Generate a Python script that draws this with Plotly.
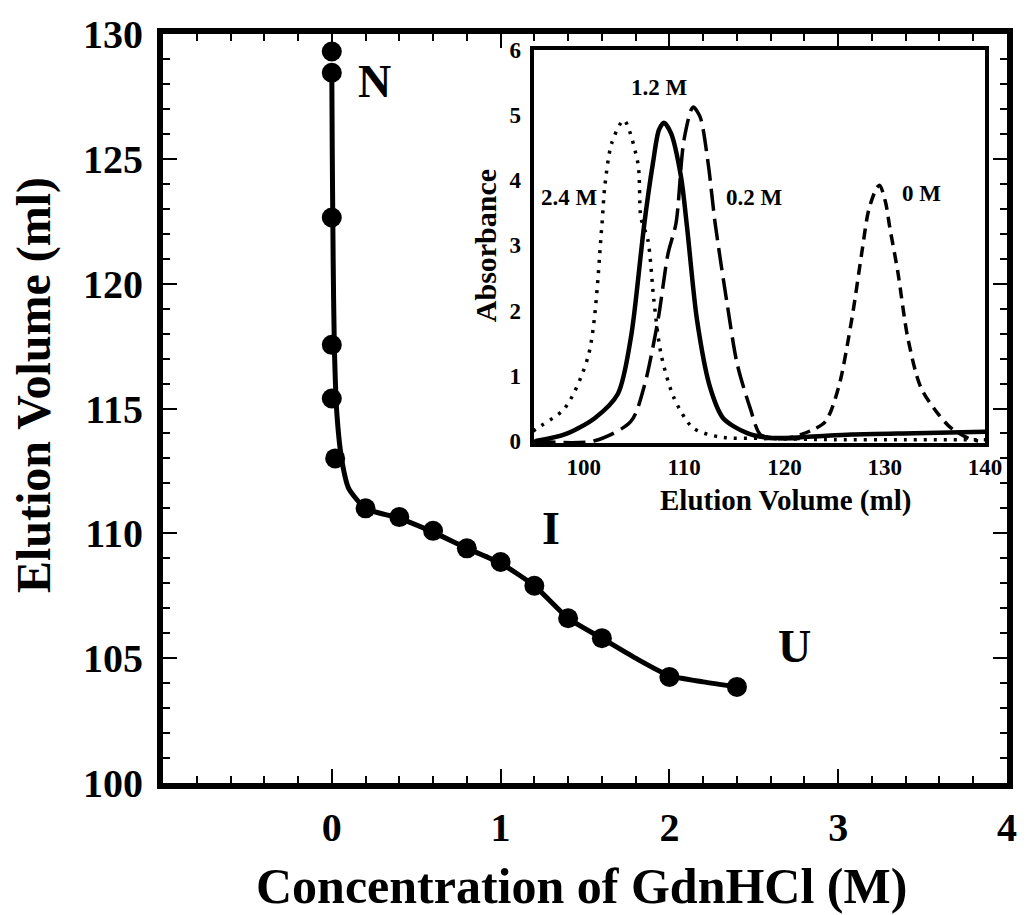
import plotly.graph_objects as go

# ---- main plot data ----
conc = [0, 0, 0, 0, 0, 0.02, 0.2, 0.4, 0.6, 0.8, 1.0, 1.2, 1.4, 1.6, 2.0, 2.4]
vol = [129.3, 128.45, 122.65, 117.55, 115.4, 113.0, 111.0, 110.65, 110.1, 109.4,
       108.85, 107.9, 106.6, 105.8, 104.25, 103.85]

# smooth fitted curve
fit_x = [0.0, 0.003, 0.008, 0.015, 0.03, 0.06, 0.1, 0.2, 0.4, 0.6, 0.8, 1.0, 1.2, 1.4, 1.6, 1.8, 2.0, 2.2, 2.4]
fit_y = [128.45, 125.0, 121.0, 117.5, 114.8, 112.9, 111.8, 111.0, 110.6, 110.05, 109.4,
         108.8, 107.9, 106.6, 105.8, 105.0, 104.3, 104.05, 103.85]

# ---- inset data ----
v24 = [95.0, 95.2, 98.1, 100.5, 101.8, 102.1, 102.8, 104.0, 105.4, 105.7, 106.4, 107.0, 107.7, 109.0, 110.9, 113.6, 118.0, 125.0, 132.0, 140.0]
a24 = [0.15, 0.18, 0.5, 1.33, 3.28, 3.9, 4.57, 4.92, 4.26, 3.43, 3.08, 2.15, 1.34, 0.66, 0.2, 0.06, 0.04, 0.02, 0.02, 0.02]

v12 = [95.2, 98.1, 101.1, 103.4, 104.7, 105.7, 106.0, 106.9, 107.5, 108.0, 108.7, 109.7, 110.3, 111.3, 112.6, 113.9, 116.3, 118.5, 122.0, 126.7, 133.0, 140.0]
a12 = [0.0, 0.1, 0.35, 0.72, 1.58, 2.87, 3.28, 4.26, 4.77, 4.88, 4.72, 4.05, 3.28, 1.85, 0.82, 0.35, 0.12, 0.05, 0.06, 0.1, 0.12, 0.14]

v02 = [95.0, 101.0, 104.7, 106.0, 107.4, 108.4, 109.2, 110.0, 110.9, 111.6, 112.4, 113.1, 114.3, 115.3, 116.6, 117.6, 119.0, 122.0]
a02 = [0.0, 0.0, 0.3, 0.82, 1.85, 2.87, 3.34, 4.62, 5.12, 4.97, 4.26, 3.34, 2.1, 1.18, 0.5, 0.1, 0.04, 0.04]

v00 = [118.0, 120.5, 122.5, 124.1, 125.4, 126.7, 127.7, 128.4, 129.2, 129.5, 130.1, 130.5, 131.3, 132.3, 133.6, 135.3, 136.6, 138.5, 139.3]
a00 = [0.04, 0.05, 0.15, 0.3, 0.82, 1.85, 2.87, 3.54, 3.88, 3.92, 3.65, 3.28, 2.6, 1.58, 0.82, 0.42, 0.2, 0.03, 0.0]

inset_labels = ["2.4 M", "1.2 M", "0.2 M", "0 M"]
inset_label_x = [98.6, 107.6, 117.0, 133.7]
inset_label_y = [3.74, 5.42, 3.74, 3.8]

state_labels = ["N", "I", "U"]
state_x = [0.25, 1.3, 2.74]
state_y = [128.1, 110.2, 105.45]

SERIF = "Liberation Serif"

fig = go.Figure()

fig.add_trace(go.Scatter(x=fit_x, y=fit_y, mode="lines", line=dict(color="black", width=5, shape="spline", smoothing=0.6),
                         xaxis="x", yaxis="y", showlegend=False, hoverinfo="skip"))
fig.add_trace(go.Scatter(x=conc, y=vol, mode="markers", marker=dict(color="black", size=20),
                         xaxis="x", yaxis="y", showlegend=False))

fig.add_trace(go.Scatter(x=v24, y=a24, mode="lines", line=dict(color="black", width=3.5, dash="3px,7px", shape="spline", smoothing=0.8),
                         xaxis="x2", yaxis="y2", showlegend=False))
fig.add_trace(go.Scatter(x=v12, y=a12, mode="lines", line=dict(color="black", width=4.5, shape="spline", smoothing=0.8),
                         xaxis="x2", yaxis="y2", showlegend=False))
fig.add_trace(go.Scatter(x=v02, y=a02, mode="lines", line=dict(color="black", width=3.5, dash="22px,8px", shape="spline", smoothing=0.8),
                         xaxis="x2", yaxis="y2", showlegend=False))
fig.add_trace(go.Scatter(x=v00, y=a00, mode="lines", line=dict(color="black", width=3.5, dash="11px,7px", shape="spline", smoothing=0.8),
                         xaxis="x2", yaxis="y2", showlegend=False))

ann = []
for t, x, y in zip(state_labels, state_x, state_y):
    ann.append(dict(text=t, x=x, y=y, xref="x", yref="y", showarrow=False,
                    font=dict(family=SERIF, size=46, color="black", weight="bold")))
for t, x, y in zip(inset_labels, inset_label_x, inset_label_y):
    ann.append(dict(text=t, x=x, y=y, xref="x2", yref="y2", showarrow=False,
                    font=dict(family=SERIF, size=23, color="black", weight="bold")))

# axis titles
ann.append(dict(text="Elution Volume (ml)", x=-0.152, y=0.531, xref="paper", yref="paper",
                textangle=-90, showarrow=False, xanchor="center", yanchor="middle",
                font=dict(family=SERIF, size=48, color="black", weight="bold")))
ann.append(dict(text="Concentration of GdnHCl (M)", x=0.496, y=-0.138, xref="paper", yref="paper",
                showarrow=False, xanchor="center", yanchor="middle",
                font=dict(family=SERIF, size=50, color="black", weight="bold")))
ann.append(dict(text="Elution Volume (ml)", x=0.738, y=0.377, xref="paper", yref="paper",
                showarrow=False, xanchor="center", yanchor="middle",
                font=dict(family=SERIF, size=29, color="black", weight="bold")))
ann.append(dict(text="Absorbance", x=0.383, y=0.717, xref="paper", yref="paper",
                textangle=-90, showarrow=False, xanchor="center", yanchor="middle",
                font=dict(family=SERIF, size=30, color="black", weight="bold")))

tickfont_main = dict(family=SERIF, size=40, color="black", weight="bold")
tickfont_inset = dict(family=SERIF, size=23, color="black", weight="bold")

fig.update_layout(
    width=1036, height=915,
    margin=dict(l=163, r=14, t=34, b=132),
    paper_bgcolor="white", plot_bgcolor="white",
    annotations=ann,
    xaxis=dict(range=[-1, 4], tickvals=[0, 1, 2, 3, 4], ticks="inside", ticklen=14, tickwidth=2,
               tickcolor="black", showline=True, linewidth=6, linecolor="black", mirror="ticks",
               showgrid=False, zeroline=False, tickfont=tickfont_main, ticklabelstandoff=4,
               minor=dict(tickmode="linear", tick0=0, dtick=0.2, ticks="inside", ticklen=7, tickwidth=1.5, tickcolor="black", showgrid=False)),
    yaxis=dict(range=[100, 130], tickvals=[100, 105, 110, 115, 120, 125, 130], ticks="inside", ticklen=14, tickwidth=2,
               tickcolor="black", showline=True, linewidth=6, linecolor="black", mirror="ticks",
               showgrid=False, zeroline=False, tickfont=tickfont_main, ticklabelstandoff=6,
               minor=dict(tickmode="linear", tick0=100, dtick=1, ticks="inside", ticklen=7, tickwidth=1.5, tickcolor="black", showgrid=False)),
    xaxis2=dict(domain=[0.439, 0.974], anchor="y2", range=[95, 140], tickvals=[100, 110, 120, 130, 140],
                ticks="", showline=True, linewidth=4, linecolor="black", mirror=True,
                showgrid=False, zeroline=False, tickfont=tickfont_inset, ticklabelstandoff=0),
    yaxis2=dict(domain=[0.454, 0.979], anchor="x2", range=[-0.03, 6.0], tickvals=[0, 1, 2, 3, 4, 5, 6],
                ticks="", showline=True, linewidth=4, linecolor="black", mirror=True,
                showgrid=False, zeroline=False, tickfont=tickfont_inset, ticklabelstandoff=4),
)

fig.write_html("out.html")
